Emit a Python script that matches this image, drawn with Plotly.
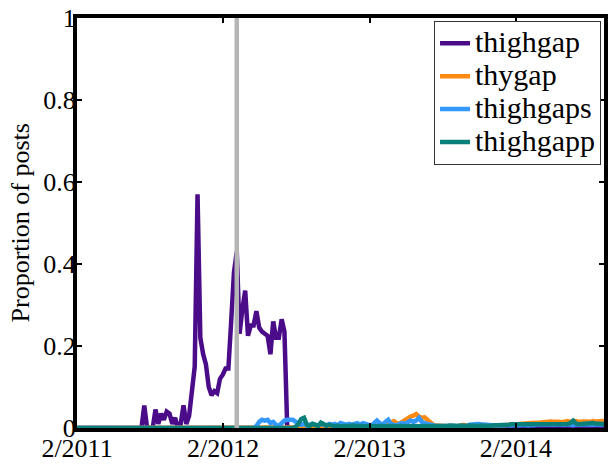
import pandas as pd
import plotly.graph_objects as go

# weekly proportions of posts (Feb 2011 -> Sep 2014)
thighgap = [
    0, 0, 0, 0, 0, 0, 0, 0, 0, 0,
    0, 0, 0, 0, 0, 0, 0, 0, 0, 0,
    0, 0, 0, 0, 0.055, 0, 0, 0, 0.045, 0.01,
    0.035, 0.02, 0.04, 0.035, 0.01, 0.025, 0, 0.01, 0.055, 0.01,
    0.03, 0.08, 0.15, 0.57, 0.22, 0.18, 0.155, 0.1, 0.08, 0.09,
    0.085, 0.12, 0.13, 0.145, 0.145, 0.26, 0.38, 0.43, 0.23, 0.29,
    0.335, 0.225, 0.25, 0.25, 0.285, 0.245, 0.235, 0.23, 0.225, 0.18,
    0.26, 0.22, 0.22, 0.265, 0.235, 0, 0, 0, 0, 0,
    0, 0, 0, 0, 0, 0, 0, 0, 0, 0,
    0, 0, 0, 0, 0, 0, 0, 0, 0, 0,
    0, 0, 0, 0, 0, 0, 0, 0, 0, 0,
    0, 0, 0, 0, 0, 0, 0, 0, 0, 0,
    0, 0, 0, 0, 0, 0, 0, 0, 0, 0,
    0, 0, 0, 0, 0, 0, 0, 0, 0, 0,
    0, 0, 0, 0, 0, 0, 0, 0, 0, 0,
    0, 0, 0, 0, 0, 0, 0, 0, 0, 0,
    0.001, 0.001, 0.001, 0.001, 0.001, 0.001, 0.001, 0.001, 0.001, 0.001,
    0.001, 0.001, 0.001, 0.001, 0.001, 0.001, 0.001, 0.001, 0.001, 0.001,
    0.001, 0.001, 0.001, 0.001, 0.001, 0.001, 0.001, 0.001, 0.001,
]

thygap = [
    0, 0, 0, 0, 0, 0, 0, 0, 0, 0,
    0, 0, 0, 0, 0, 0, 0, 0, 0, 0,
    0, 0, 0, 0, 0, 0, 0, 0, 0, 0,
    0, 0, 0, 0, 0, 0, 0, 0, 0, 0,
    0, 0, 0, 0, 0, 0, 0, 0, 0, 0,
    0, 0, 0, 0, 0, 0, 0, 0, 0, 0,
    0, 0, 0, 0, 0, 0, 0, 0, 0, 0,
    0, 0, 0, 0, 0, 0, 0, 0, 0, 0,
    0, 0, 0, 0, 0, 0, 0, 0, 0, 0,
    0, 0, 0, 0, 0, 0, 0, 0, 0, 0,
    0, 0, 0, 0, 0.002, 0, 0.002, 0.003, 0.003, 0.004,
    0.006, 0.01, 0.015, 0.017, 0.012, 0.01, 0.015, 0.02, 0.024, 0.028,
    0.03, 0.034, 0.028, 0.025, 0.026, 0.02, 0.012, 0.008, 0.006, 0.005,
    0.005, 0.004, 0.004, 0.005, 0.004, 0.004, 0.005, 0.007, 0.008, 0.006,
    0.005, 0.004, 0.004, 0.005, 0.005, 0.004, 0.005, 0.005, 0.006, 0.006,
    0.006, 0.006, 0.007, 0.007, 0.007, 0.008, 0.008, 0.009, 0.01, 0.011,
    0.011, 0.012, 0.012, 0.013, 0.012, 0.013, 0.013, 0.014, 0.015, 0.016,
    0.015, 0.016, 0.015, 0.014, 0.016, 0.017, 0.015, 0.016, 0.017, 0.015,
    0.016, 0.017, 0.016, 0.015, 0.017, 0.016, 0.017, 0.016, 0.017,
]

thighgaps = [
    0, 0, 0, 0, 0, 0, 0, 0, 0, 0,
    0, 0, 0, 0, 0, 0, 0, 0, 0, 0,
    0, 0, 0, 0, 0, 0, 0, 0, 0, 0,
    0, 0, 0, 0, 0, 0, 0, 0, 0, 0,
    0, 0, 0, 0, 0, 0, 0, 0, 0, 0,
    0, 0, 0, 0, 0, 0, 0, 0, 0, 0,
    0, 0, 0, 0, 0.005, 0.015, 0.02, 0.018, 0.02, 0.012,
    0.015, 0.008, 0.005, 0.012, 0.018, 0.02, 0.02, 0.02, 0.015, 0.012,
    0.008, 0.01, 0.006, 0.008, 0.01, 0.008, 0.006, 0.01, 0.008, 0.006,
    0.01, 0.008, 0.01, 0.006, 0.012, 0.01, 0.008, 0.01, 0.008, 0.01,
    0.012, 0.008, 0.012, 0.01, 0.008, 0.006, 0.012, 0.018, 0.012, 0.008,
    0.015, 0.02, 0.01, 0.008, 0.006, 0.01, 0.012, 0.01, 0.015, 0.018,
    0.015, 0.018, 0.025, 0.015, 0.012, 0.01, 0.008, 0.006, 0.005, 0.005,
    0.005, 0.004, 0.005, 0.004, 0.005, 0.005, 0.004, 0.005, 0.006, 0.005,
    0.008, 0.009, 0.01, 0.01, 0.009, 0.008, 0.008, 0.007, 0.006, 0.006,
    0.006, 0.005, 0.006, 0.007, 0.006, 0.006, 0.007, 0.006, 0.007, 0.008,
    0.007, 0.006, 0.008, 0.007, 0.009, 0.008, 0.007, 0.008, 0.009, 0.008,
    0.008, 0.009, 0.008, 0.007, 0.008, 0.009, 0.008, 0.007, 0.009, 0.008,
    0.008, 0.009, 0.008, 0.009, 0.008, 0.009, 0.008, 0.008, 0.009,
]

thighgapp = [
    0, 0, 0, 0, 0, 0, 0, 0, 0, 0,
    0, 0, 0, 0, 0, 0, 0, 0, 0, 0,
    0, 0, 0, 0, 0, 0, 0, 0, 0, 0,
    0, 0, 0, 0, 0, 0, 0, 0, 0, 0,
    0, 0, 0, 0, 0, 0, 0, 0, 0, 0,
    0, 0, 0, 0, 0, 0, 0, 0, 0, 0,
    0, 0, 0, 0, 0, 0, 0, 0, 0, 0,
    0, 0, 0, 0, 0, 0, 0, 0, 0.003, 0.01,
    0.022, 0.025, 0.008, 0.005, 0.01, 0.008, 0.005, 0.013, 0.008, 0.006,
    0.008, 0.005, 0.004, 0.006, 0.004, 0.005, 0.004, 0.005, 0.006, 0.005,
    0.004, 0.005, 0.005, 0.004, 0.005, 0.004, 0.004, 0.005, 0.004, 0.005,
    0.004, 0.005, 0.004, 0.005, 0.004, 0.005, 0.004, 0.005, 0.004, 0.005,
    0.004, 0.005, 0.004, 0.005, 0.004, 0.005, 0.004, 0.005, 0.004, 0.005,
    0.005, 0.004, 0.005, 0.006, 0.005, 0.004, 0.005, 0.006, 0.005, 0.005,
    0.006, 0.005, 0.006, 0.005, 0.006, 0.005, 0.006, 0.005, 0.006, 0.006,
    0.006, 0.007, 0.007, 0.008, 0.008, 0.009, 0.009, 0.01, 0.01, 0.01,
    0.011, 0.01, 0.011, 0.01, 0.011, 0.01, 0.011, 0.01, 0.011, 0.01,
    0.011, 0.01, 0.011, 0.01, 0.011, 0.01, 0.012, 0.018, 0.011, 0.009,
    0.01, 0.011, 0.01, 0.011, 0.012, 0.011, 0.01, 0.011, 0.01,
]

series_names = ["thighgap", "thygap", "thighgaps", "thighgapp"]
series_values = [thighgap, thygap, thighgaps, thighgapp]
series_colors = ["#4B0C8A", "#FF8A12", "#3399FF", "#0A807A"]

dates = pd.date_range("2011-02-01", periods=len(thighgap), freq="7D")

tick_dates = ["2011-02-01", "2012-02-01", "2013-02-01", "2014-02-01"]
tick_labels = ["2/2011", "2/2012", "2/2013", "2/2014"]
x_range = ["2011-02-01", "2014-09-09"]
event_date = "2012-03-06"

FONT = "Liberation Serif"
LEGEND_TEXT_PX = 30

fig = go.Figure()
for name, vals, col in zip(series_names, series_values, series_colors):
    fig.add_trace(go.Scatter(
        x=dates, y=vals, mode="lines",
        name=f"<span style='font-size:{LEGEND_TEXT_PX}px'>{name}</span>",
        line=dict(color=col, width=4.5)))

fig.add_trace(go.Scatter(x=[event_date, event_date], y=[0, 1], mode="lines",
                         line=dict(color="#b5b5b5", width=4.5), showlegend=False,
                         hoverinfo="skip"))

plot_left, plot_right = 77, 608
fig_w = 612

def px_to_paper(px):
    return (px - plot_left) / (plot_right - plot_left)

fig.update_layout(
    width=fig_w, height=467,
    margin=dict(l=plot_left, r=fig_w - plot_right, t=15, b=35),
    paper_bgcolor="white", plot_bgcolor="white",
    font=dict(family=FONT, size=26, color="black"),
    showlegend=True,
    legend=dict(x=px_to_paper(605), y=0.993, xanchor="right", yanchor="top",
                bgcolor="white", bordercolor="#333333", borderwidth=1,
                font=dict(family=FONT, size=23, color="black"),
                tracegroupgap=0, itemwidth=30),
    xaxis=dict(range=x_range, tickvals=tick_dates, ticktext=tick_labels,
               showgrid=False, zeroline=False, showline=True, linecolor="black",
               linewidth=4, mirror="ticks", ticks="inside", ticklen=5, tickwidth=2,
               tickcolor="black", tickfont=dict(family=FONT, size=26),
               ticklabelstandoff=-6),
    yaxis=dict(range=[0, 1], tickvals=[0, 0.2, 0.4, 0.6, 0.8, 1],
               ticktext=["0", "0.2", "0.4", "0.6", "0.8", "1"],
               showgrid=False, zeroline=False, showline=True, linecolor="black",
               linewidth=4, mirror="ticks", ticks="inside", ticklen=5, tickwidth=2,
               tickcolor="black", tickfont=dict(family=FONT, size=26),
               ticklabelstandoff=-8),
    annotations=[dict(text="Proportion of posts", xref="paper", yref="paper",
                      x=px_to_paper(20), y=0.5, xanchor="center", yanchor="middle",
                      textangle=-90, showarrow=False,
                      font=dict(family=FONT, size=26, color="black"))],
)

fig.write_html("out.html", config={"displayModeBar": False},
               post_script="document.body.style.margin='0';document.body.style.overflow='hidden';document.documentElement.style.overflow='hidden';")
